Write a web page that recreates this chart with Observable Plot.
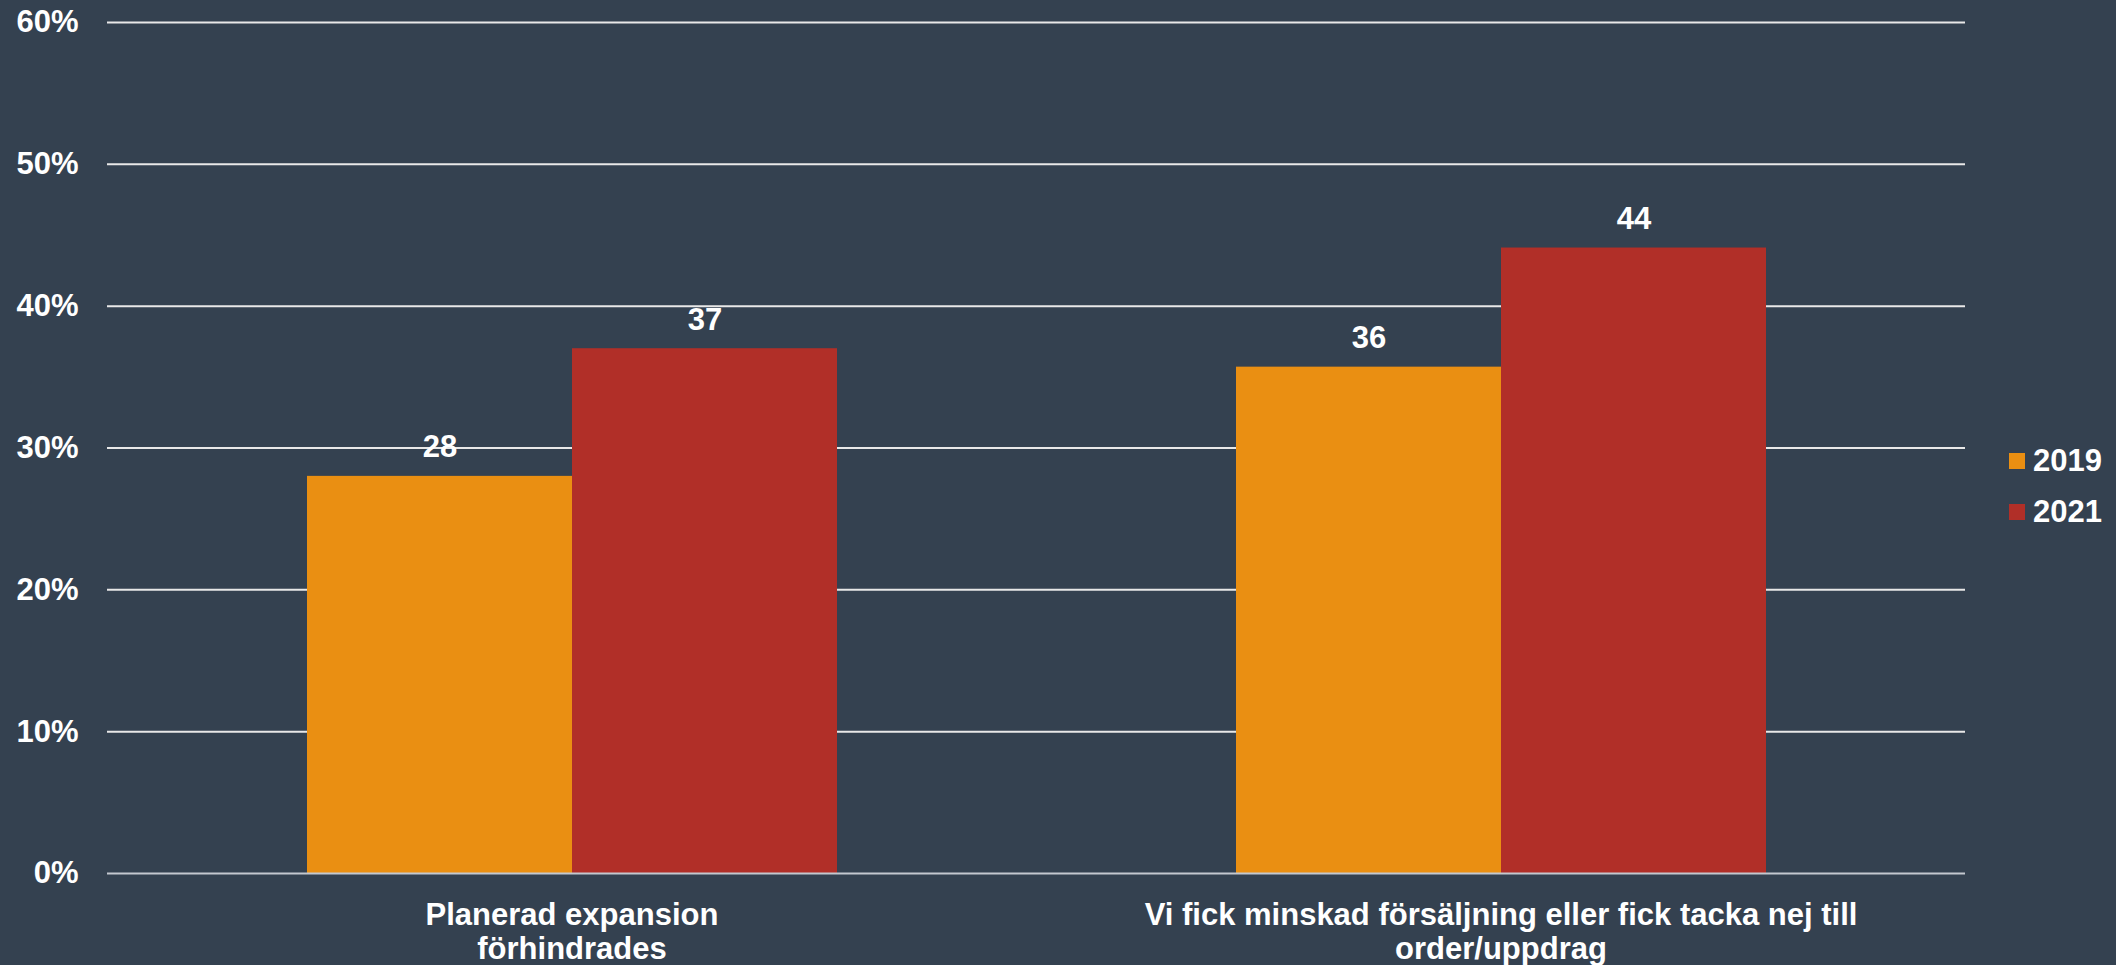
<!DOCTYPE html>
<html>
<head>
<meta charset="utf-8">
<script src="https://cdn.jsdelivr.net/npm/d3@7"></script>
<script src="https://cdn.jsdelivr.net/npm/@observablehq/plot@0.6"></script>
<style>
  html, body { margin: 0; padding: 0; background: #344150; }
  #wrap { position: relative; width: 2116px; height: 965px; background: #344150; }
  #legend { position: absolute; left: 2009px; top: 440px; font-family: "Liberation Sans", Arial, sans-serif; font-weight: bold; font-size: 31px; color: #ffffff; }
  .row { display: flex; align-items: center; height: 42px; margin-bottom: 9px; }
  .sw { width: 16px; height: 16px; margin-right: 8px; }
</style>
</head>
<body>
<div id="wrap"></div>
<script>
const categories = ["Planerad expansion förhindrades", "Vi fick minskad försäljning eller fick tacka nej till order/uppdrag"];
const categoryLines = ["Planerad expansion\nförhindrades", "Vi fick minskad försäljning eller fick tacka nej till\norder/uppdrag"];
const years = ["2019", "2021"];
const values2019 = [28, 35.7];
const values2021 = [37, 44.1];
const yTicks = [0, 10, 20, 30, 40, 50, 60];
const colors = ["#EA8F12", "#B12F28"];

const seriesValues = [values2019, values2021];
const data = [];
categories.forEach((c, i) => {
  years.forEach((y, j) => {
    data.push({cat: c, year: y, value: seriesValues[j][i]});
  });
});

const chart = Plot.plot({
  width: 2116,
  height: 965,
  marginLeft: 107,
  marginRight: 151,
  marginTop: 22,
  marginBottom: 92,
  style: {background: "transparent", color: "#ffffff", fontFamily: "'Liberation Sans', Arial, sans-serif", fontWeight: "bold", fontSize: "31px"},
  fx: {domain: categories, padding: 0, label: null},
  x: {domain: years, paddingInner: 0, paddingOuter: 0.75, axis: null},
  y: {domain: [0, 60], label: null},
  color: {domain: years, range: colors},
  marks: [
    Plot.gridY(yTicks.filter(d => d > 0), {stroke: "#e8e8e8", strokeOpacity: 1, strokeWidth: 2}),
    Plot.axisY(yTicks, {tickSize: 0, tickPadding: 29, tickFormat: d => d + "%", label: null, fill: "#ffffff"}),
    Plot.barY(data, {fx: "cat", x: "year", y: "value", fill: "year", inset: 0}),
    Plot.ruleY([0], {stroke: "#c3c8cf", strokeWidth: 2}),
    Plot.text(data, {fx: "cat", x: "year", y: "value", text: d => String(Math.round(d.value)), dy: -29, fill: "#ffffff"}),
    Plot.axisFx({anchor: "bottom", tickSize: 0, tickPadding: 27, label: null, lineHeight: 1.1, fill: "#ffffff",
      tickFormat: d => categoryLines[categories.indexOf(d)]})
  ]
});

const wrap = document.getElementById("wrap");
wrap.appendChild(chart);

const legend = document.createElement("div");
legend.id = "legend";
years.forEach((y, j) => {
  const row = document.createElement("div");
  row.className = "row";
  const sw = document.createElement("div");
  sw.className = "sw";
  sw.style.background = colors[j];
  const t = document.createElement("span");
  t.textContent = y;
  row.appendChild(sw);
  row.appendChild(t);
  legend.appendChild(row);
});
wrap.appendChild(legend);
</script>
</body>
</html>
